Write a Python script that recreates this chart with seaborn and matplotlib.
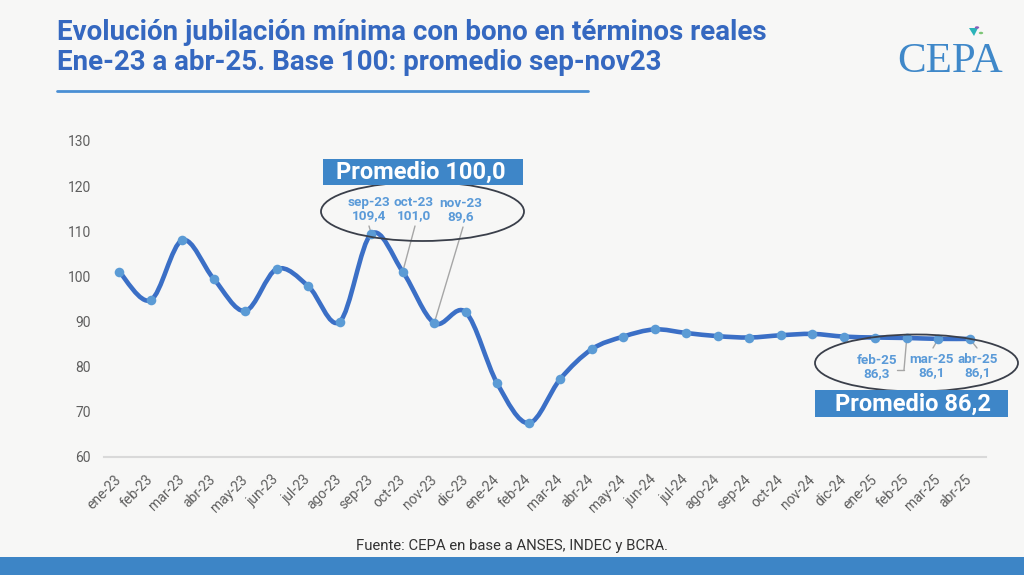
import numpy as np
import pandas as pd
import matplotlib
matplotlib.use("Agg")
import matplotlib.pyplot as plt
import seaborn as sns
from matplotlib.path import Path
from matplotlib.patches import PathPatch, Ellipse, Rectangle, Polygon, Circle
from matplotlib.lines import Line2D

# ---------------- data ----------------
months = ["ene-23", "feb-23", "mar-23", "abr-23", "may-23", "jun-23", "jul-23",
          "ago-23", "sep-23", "oct-23", "nov-23", "dic-23", "ene-24", "feb-24",
          "mar-24", "abr-24", "may-24", "jun-24", "jul-24", "ago-24", "sep-24",
          "oct-24", "nov-24", "dic-24", "ene-25", "feb-25", "mar-25", "abr-25"]
values = [101.0, 94.7, 108.0, 99.4, 92.3, 101.6, 97.8,
          89.9, 109.4, 101.0, 89.6, 92.0, 76.2, 67.4,
          77.2, 83.8, 86.6, 88.2, 87.4, 86.7, 86.4,
          86.9, 87.2, 86.6, 86.4, 86.3, 86.1, 86.1]
yticks = [60, 70, 80, 90, 100, 110, 120, 130]

title1 = "Evolución jubilación mínima con bono en términos reales"
title2 = "Ene-23 a abr-25. Base 100: promedio sep-nov23"
source = "Fuente: CEPA en base a ANSES, INDEC y BCRA."
avg_left = "Promedio 100,0"
avg_right = "Promedio 86,2"
left_labels = ["sep-23", "oct-23", "nov-23"]
left_texts = ["109,4", "101,0", "89,6"]
right_labels = ["feb-25", "mar-25", "abr-25"]
right_texts = ["86,3", "86,1", "86,1"]

df = pd.DataFrame({"mes": months, "valor": values})

# ---------------- style ----------------
BG = "#f7f7f6"
LINE = "#3b6fc6"
MARK = "#5b9bd5"
TITLE_C = "#3568c0"
BOX_C = "#3e86c8"
LABEL_C = "#5a9ad8"

sns.set_style("white")
plt.rcParams["font.family"] = ["Roboto", "DejaVu Sans"]

W, H = 1024, 575
fig = plt.figure(figsize=(W / 100, H / 100), dpi=100, facecolor=BG)

def fx(px):
    return px / W

def fy(py):
    return 1 - py / H

ax = fig.add_axes([fx(103.5), fy(456.5), (985.5 - 103.5) / W, (456.5 - 141) / H])
ax.set_facecolor(BG)

# smoothed line (Bezier through the data points, Excel-like smoothing)
xs = np.arange(len(values), dtype=float)
ys = np.asarray(values, dtype=float)
n = len(xs)
verts = [(xs[0], ys[0])]
codes = [Path.MOVETO]
for i in range(n - 1):
    p0 = np.array([xs[max(i - 1, 0)], ys[max(i - 1, 0)]])
    p1 = np.array([xs[i], ys[i]])
    p2 = np.array([xs[i + 1], ys[i + 1]])
    p3 = np.array([xs[min(i + 2, n - 1)], ys[min(i + 2, n - 1)]])
    c1 = p1 + (p2 - p0) / 6.0
    c2 = p2 - (p3 - p1) / 6.0
    verts += [tuple(c1), tuple(c2), tuple(p2)]
    codes += [Path.CURVE4, Path.CURVE4, Path.CURVE4]
ax.add_patch(PathPatch(Path(verts, codes), facecolor="none", edgecolor=LINE,
                       lw=3.3, capstyle="round", joinstyle="round", zorder=3))

sns.scatterplot(data=df, x="mes", y="valor", ax=ax, s=48, color=MARK,
                edgecolor=MARK, linewidth=0, zorder=4, legend=False)

ax.set_xlim(-0.5, len(months) - 0.5)
ax.set_ylim(60, 130)
ax.set_xlabel("")
ax.set_ylabel("")
ax.set_yticks(yticks)
ax.set_yticklabels([str(v) for v in yticks], color="#5f5f5f", fontsize=10)
ax.tick_params(axis="y", length=0, pad=9)
ax.set_xticks(range(len(months)))
ax.set_xticklabels(months, rotation=45, ha="right", va="center",
                   rotation_mode="anchor", color="#5f5f5f", fontsize=10)
ax.tick_params(axis="x", which="major", length=0, pad=15)
ax.set_xticks(np.arange(-0.5, len(months), 1.0), minor=True)
ax.tick_params(axis="x", which="minor", length=4, color="#d6d6d6", width=1)
for s in ["top", "right", "left"]:
    ax.spines[s].set_visible(False)
ax.spines["bottom"].set_color("#d9d9d9")
ax.spines["bottom"].set_linewidth(1.5)
ax.grid(False)

# ---------------- annotations ----------------
# left group
fig.patches.append(Ellipse((fx(422.5), fy(211.5)), 203 / W, 59 / H, transform=fig.transFigure,
                           facecolor="none", edgecolor="#3a3f4a", lw=1.3, zorder=5))
fig.patches.append(Rectangle((fx(323), fy(185)), 200 / W, 26 / H, transform=fig.transFigure,
                             facecolor=BOX_C, edgecolor="none", zorder=6))
fig.text(fx(421), fy(172), avg_left, color="white", fontsize=17, fontweight="bold",
         ha="center", va="center", zorder=7)

left_pos = [(369, 209), (414, 209), (461, 210)]
left_idx = [months.index(m) for m in left_labels]
left_start = [(369, 226), (415, 226), (463, 227)]
for lab, txt, (px, py), i, (sx, sy) in zip(left_labels, left_texts, left_pos, left_idx, left_start):
    fig.text(fx(px), fy(py), lab + "\n" + txt, color=LABEL_C, fontsize=9.7,
             fontweight="bold", ha="center", va="center", linespacing=1.05)
    ax.annotate("", xy=(i, values[i]), xycoords="data",
                xytext=(fx(sx), fy(sy)), textcoords="figure fraction",
                arrowprops=dict(arrowstyle="-", color="#a6a6a6", lw=1.0,
                                shrinkA=0, shrinkB=2))

# right group
fig.patches.append(Ellipse((fx(916.5), fy(363)), 203 / W, 57 / H, transform=fig.transFigure,
                           facecolor="none", edgecolor="#3a3f4a", lw=1.3, zorder=5))
fig.patches.append(Rectangle((fx(815), fy(417)), 193 / W, 27 / H, transform=fig.transFigure,
                             facecolor=BOX_C, edgecolor="none", zorder=6))
fig.text(fx(913), fy(404), avg_right, color="white", fontsize=17, fontweight="bold",
         ha="center", va="center", zorder=7)

right_pos = [(877, 367), (932, 366), (978, 366)]
right_idx = [months.index(m) for m in right_labels]
right_start = [(904, 370), (933, 348), (977, 348)]
for lab, txt, (px, py), i, (sx, sy) in zip(right_labels, right_texts, right_pos, right_idx, right_start):
    fig.text(fx(px), fy(py), lab + "\n" + txt, color=LABEL_C, fontsize=9.7,
             fontweight="bold", ha="center", va="center", linespacing=1.05)
    ax.annotate("", xy=(i, values[i]), xycoords="data",
                xytext=(fx(sx), fy(sy)), textcoords="figure fraction",
                arrowprops=dict(arrowstyle="-", color="#a6a6a6", lw=1.0,
                                shrinkA=0, shrinkB=2))
fig.lines.append(Line2D([fx(897), fx(904)], [fy(370), fy(370)], transform=fig.transFigure,
                        color="#a6a6a6", lw=1.0))

# ---------------- titles, logo, footer ----------------
fig.text(fx(57), fy(39.5), title1, color=TITLE_C, fontsize=20, fontweight="bold",
         ha="left", va="baseline")
fig.text(fx(57), fy(70.5), title2, color=TITLE_C, fontsize=20, fontweight="bold",
         ha="left", va="baseline")
fig.lines.append(Line2D([fx(57), fx(588)], [fy(90.5), fy(90.5)], transform=fig.transFigure,
                        color="#4a8fd4", lw=2.0))

fig.text(fx(950), fy(72), "CEPA", family=["Liberation Serif", "DejaVu Serif"],
         color="#3f88c9", fontsize=31, ha="center", va="baseline")
fig.patches.append(Polygon([[fx(969), fy(28)], [fx(978), fy(28)], [fx(974), fy(36)]],
                           closed=True, transform=fig.transFigure, facecolor="#2bb3b9",
                           edgecolor="none"))
fig.patches.append(Circle((fx(977), fy(27.5)), 2.2 / W, transform=fig.transFigure,
                          facecolor="#8a5bb8", edgecolor="none"))
fig.patches.append(Circle((fx(981), fy(33)), 2.2 / W, transform=fig.transFigure,
                          facecolor="#7cc576", edgecolor="none"))

fig.text(fx(512), fy(546), source, color="#333333", fontsize=10.7, ha="center", va="center")
fig.patches.append(Rectangle((0, 0), 1, 18 / H, transform=fig.transFigure,
                             facecolor="#3d85c6", edgecolor="none"))

fig.savefig("out.png", dpi=100, facecolor=BG)
